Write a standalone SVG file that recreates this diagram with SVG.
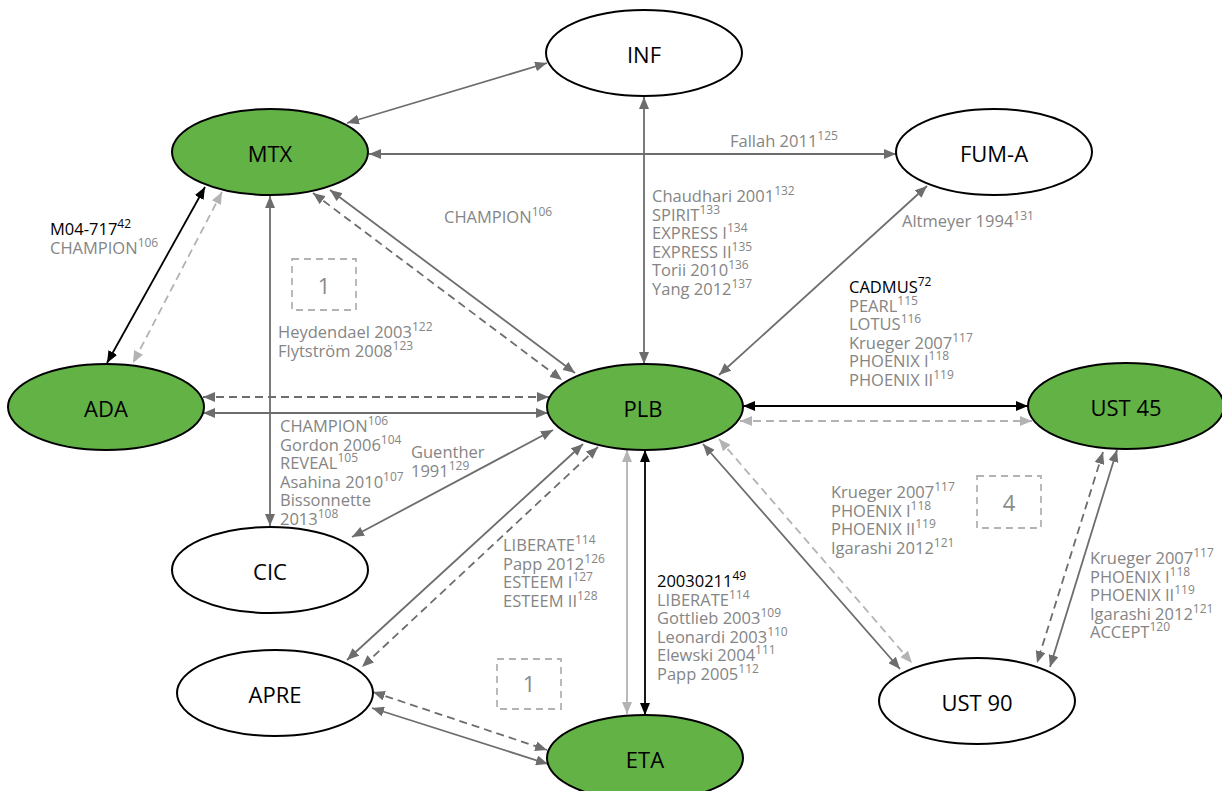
<svg xmlns="http://www.w3.org/2000/svg" width="1222" height="791" viewBox="0 0 1222 791">
<style>
.bg{fill:#ffffff}
.ng ellipse{fill:#63b246;stroke:#000;stroke-width:2}
.nw ellipse{fill:#ffffff;stroke:#000;stroke-width:2}
.nl{font-family:"Open Sans","Noto Sans",sans-serif;font-size:22px;fill:#000;text-anchor:middle}
.e{fill:none;stroke-width:1.8}
.d{stroke:#6d6d6d;marker-start:url(#ad);marker-end:url(#ad)}
.k{stroke:#000;marker-start:url(#ak);marker-end:url(#ak)}
.l{stroke:#b3b3b3;marker-start:url(#al);marker-end:url(#al)}
.da{stroke-dasharray:8 5}
.t{font-family:"Open Sans","Noto Sans",sans-serif;font-size:16.5px;fill:#858585}
.tk{fill:#000}
.s{font-size:12px}
.box{fill:none;stroke:#b3b3b3;stroke-width:1.8;stroke-dasharray:7 5}
.bn{font-family:"Open Sans","Noto Sans",sans-serif;font-size:22px;fill:#8a8a8a;text-anchor:middle}
</style>
<defs>
<marker id="ad" viewBox="0 0 12 10" refX="12" refY="5" markerWidth="12" markerHeight="10" markerUnits="userSpaceOnUse" orient="auto-start-reverse"><path d="M0,0L12,5L0,10z" fill="#6d6d6d"/></marker>
<marker id="ak" viewBox="0 0 12 10" refX="12" refY="5" markerWidth="12" markerHeight="10" markerUnits="userSpaceOnUse" orient="auto-start-reverse"><path d="M0,0L12,5L0,10z" fill="#000"/></marker>
<marker id="al" viewBox="0 0 12 10" refX="12" refY="5" markerWidth="12" markerHeight="10" markerUnits="userSpaceOnUse" orient="auto-start-reverse"><path d="M0,0L12,5L0,10z" fill="#b3b3b3"/></marker>
</defs>
<rect class="bg" x="0" y="0" width="1222" height="791"/>

<g id="connectors">
<line class="e d" x1="347" y1="123" x2="547" y2="63"/>
<line class="e d" x1="369" y1="154" x2="896" y2="154"/>
<line class="e d" x1="644" y1="97" x2="644" y2="364"/>
<line class="e k" x1="205" y1="187" x2="107" y2="363"/>
<line class="e l da" x1="222" y1="192" x2="133" y2="363"/>
<line class="e d" x1="270" y1="196" x2="270" y2="526"/>
<line class="e d" x1="330" y1="190" x2="575" y2="373"/>
<line class="e d da" x1="313" y1="193" x2="562" y2="380"/>
<line class="e d" x1="719" y1="375" x2="927" y2="186"/>
<line class="e d da" x1="203" y1="397" x2="549" y2="397"/>
<line class="e d" x1="203" y1="413" x2="548" y2="413"/>
<line class="e d" x1="553" y1="430" x2="352" y2="537"/>
<line class="e k" x1="743" y1="406" x2="1028" y2="406"/>
<line class="e l da" x1="740" y1="421" x2="1032" y2="421"/>
<line class="e l" x1="627" y1="450" x2="627" y2="714"/>
<line class="e k" x1="645" y1="450" x2="645" y2="715"/>
<line class="e d" x1="583" y1="444" x2="347" y2="660"/>
<line class="e d da" x1="598" y1="447" x2="362" y2="667"/>
<line class="e d" x1="703" y1="444" x2="900" y2="669"/>
<line class="e l da" x1="719" y1="439" x2="912" y2="663"/>
<line class="e d da" x1="373" y1="692" x2="547" y2="750"/>
<line class="e d" x1="372" y1="708" x2="548" y2="764"/>
<line class="e d da" x1="1103" y1="452" x2="1037" y2="663"/>
<line class="e d" x1="1117" y1="450" x2="1050" y2="667"/>
</g>

<g id="node-INF" class="nw"><ellipse cx="644" cy="53" rx="98" ry="43"/><text class="nl" x="644" y="63">INF</text></g>
<g id="node-MTX" class="ng"><ellipse cx="270" cy="152" rx="98" ry="43"/><text class="nl" x="270" y="162">MTX</text></g>
<g id="node-FUMA" class="nw"><ellipse cx="994" cy="152" rx="98" ry="43"/><text class="nl" x="994" y="162">FUM-A</text></g>
<g id="node-ADA" class="ng"><ellipse cx="106" cy="407" rx="98" ry="43"/><text class="nl" x="106" y="417">ADA</text></g>
<g id="node-PLB" class="ng"><ellipse cx="645" cy="407" rx="98" ry="43"/><text class="nl" x="643" y="417">PLB</text></g>
<g id="node-UST45" class="ng"><ellipse cx="1126" cy="406" rx="98" ry="43"/><text class="nl" x="1126" y="416">UST 45</text></g>
<g id="node-CIC" class="nw"><ellipse cx="270" cy="570" rx="98" ry="43"/><text class="nl" x="270" y="580">CIC</text></g>
<g id="node-APRE" class="nw"><ellipse cx="275" cy="693" rx="98" ry="43"/><text class="nl" x="275" y="703">APRE</text></g>
<g id="node-ETA" class="ng"><ellipse cx="645" cy="758" rx="98" ry="43"/><text class="nl" x="645" y="768">ETA</text></g>
<g id="node-UST90" class="nw"><ellipse cx="977" cy="701" rx="98" ry="43"/><text class="nl" x="977" y="711">UST 90</text></g>

<g id="labels">
<text class="t" x="730" y="147">Fallah 2011<tspan class="s" dy="-7">125</tspan></text>
<text class="t tk" x="50" y="235">M04-717<tspan class="s" dy="-7">42</tspan></text>
<text class="t" x="50" y="254">CHAMPION<tspan class="s" dy="-7">106</tspan></text>
<text class="t" x="444" y="223">CHAMPION<tspan class="s" dy="-7">106</tspan></text>

<text class="t" x="652" y="202">Chaudhari 2001<tspan class="s" dy="-7">132</tspan></text>
<text class="t" x="652" y="220.5">SPIRIT<tspan class="s" dy="-7">133</tspan></text>
<text class="t" x="652" y="239">EXPRESS I<tspan class="s" dy="-7">134</tspan></text>
<text class="t" x="652" y="257.5">EXPRESS II<tspan class="s" dy="-7">135</tspan></text>
<text class="t" x="652" y="276">Torii 2010<tspan class="s" dy="-7">136</tspan></text>
<text class="t" x="652" y="294.5">Yang 2012<tspan class="s" dy="-7">137</tspan></text>

<text class="t" x="902" y="227">Altmeyer 1994<tspan class="s" dy="-7">131</tspan></text>

<text class="t tk" x="849" y="293">CADMUS<tspan class="s" dy="-7">72</tspan></text>
<text class="t" x="849" y="311.5">PEARL<tspan class="s" dy="-7">115</tspan></text>
<text class="t" x="849" y="330">LOTUS<tspan class="s" dy="-7">116</tspan></text>
<text class="t" x="849" y="348.5">Krueger 2007<tspan class="s" dy="-7">117</tspan></text>
<text class="t" x="849" y="367">PHOENIX I<tspan class="s" dy="-7">118</tspan></text>
<text class="t" x="849" y="385.5">PHOENIX II<tspan class="s" dy="-7">119</tspan></text>

<text class="t" x="278" y="338">Heydendael 2003<tspan class="s" dy="-7">122</tspan></text>
<text class="t" x="278" y="357">Flytström 2008<tspan class="s" dy="-7">123</tspan></text>

<text class="t" x="280" y="432">CHAMPION<tspan class="s" dy="-7">106</tspan></text>
<text class="t" x="280" y="450.5">Gordon 2006<tspan class="s" dy="-7">104</tspan></text>
<text class="t" x="280" y="469">REVEAL<tspan class="s" dy="-7">105</tspan></text>
<text class="t" x="280" y="487.5">Asahina 2010<tspan class="s" dy="-7">107</tspan></text>
<text class="t" x="280" y="506">Bissonnette</text>
<text class="t" x="280" y="524.5">2013<tspan class="s" dy="-7">108</tspan></text>

<text class="t" x="411" y="458">Guenther</text>
<text class="t" x="411" y="477">1991<tspan class="s" dy="-7">129</tspan></text>

<text class="t" x="503" y="551">LIBERATE<tspan class="s" dy="-7">114</tspan></text>
<text class="t" x="503" y="569.5">Papp 2012<tspan class="s" dy="-7">126</tspan></text>
<text class="t" x="503" y="588">ESTEEM I<tspan class="s" dy="-7">127</tspan></text>
<text class="t" x="503" y="606.5">ESTEEM II<tspan class="s" dy="-7">128</tspan></text>

<text class="t tk" x="657" y="587">20030211<tspan class="s" dy="-7">49</tspan></text>
<text class="t" x="657" y="605.5">LIBERATE<tspan class="s" dy="-7">114</tspan></text>
<text class="t" x="657" y="624">Gottlieb 2003<tspan class="s" dy="-7">109</tspan></text>
<text class="t" x="657" y="642.5">Leonardi 2003<tspan class="s" dy="-7">110</tspan></text>
<text class="t" x="657" y="661">Elewski 2004<tspan class="s" dy="-7">111</tspan></text>
<text class="t" x="657" y="679.5">Papp 2005<tspan class="s" dy="-7">112</tspan></text>

<text class="t" x="831" y="498">Krueger 2007<tspan class="s" dy="-7">117</tspan></text>
<text class="t" x="831" y="516.5">PHOENIX I<tspan class="s" dy="-7">118</tspan></text>
<text class="t" x="831" y="535">PHOENIX II<tspan class="s" dy="-7">119</tspan></text>
<text class="t" x="831" y="553.5">Igarashi 2012<tspan class="s" dy="-7">121</tspan></text>

<text class="t" x="1090" y="564">Krueger 2007<tspan class="s" dy="-7">117</tspan></text>
<text class="t" x="1090" y="582.5">PHOENIX I<tspan class="s" dy="-7">118</tspan></text>
<text class="t" x="1090" y="601">PHOENIX II<tspan class="s" dy="-7">119</tspan></text>
<text class="t" x="1090" y="619.5">Igarashi 2012<tspan class="s" dy="-7">121</tspan></text>
<text class="t" x="1090" y="638">ACCEPT<tspan class="s" dy="-7">120</tspan></text>
</g>

<g id="box-1-top"><rect class="box" x="292" y="259" width="64" height="51"/><text class="bn" x="324" y="294">1</text></g>
<g id="box-1-bottom"><rect class="box" x="497" y="659" width="64" height="50"/><text class="bn" x="529" y="692">1</text></g>
<g id="box-4"><rect class="box" x="977" y="476" width="64" height="52"/><text class="bn" x="1009" y="511">4</text></g>
</svg>
